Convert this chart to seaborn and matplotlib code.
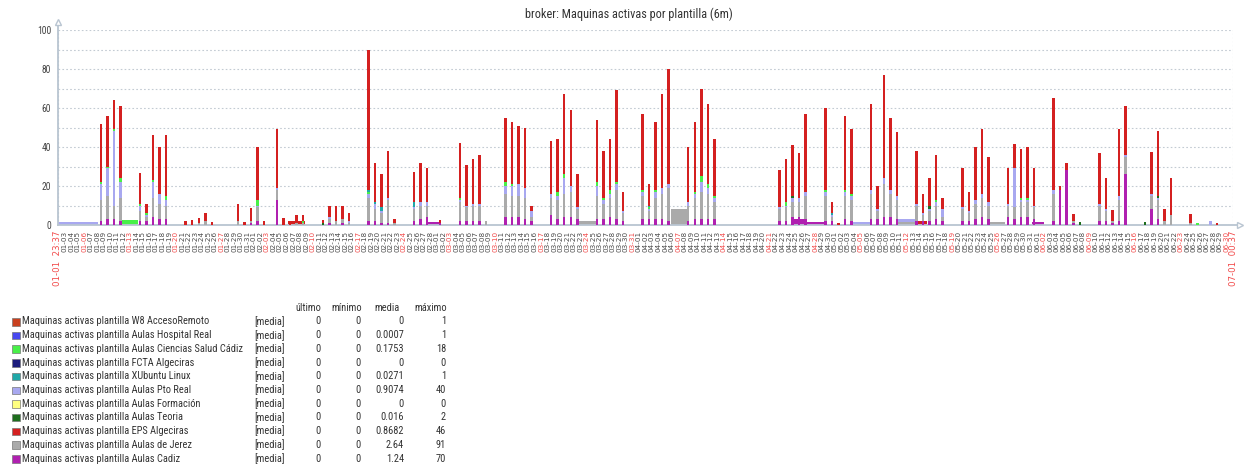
import numpy as np
import pandas as pd
import matplotlib
matplotlib.use("Agg")
import matplotlib.pyplot as plt
from matplotlib import font_manager as fm
from matplotlib.patches import Rectangle
import seaborn as sns

# ---------------- data ----------------
title = "broker: Maquinas activas por plantilla (6m)"
range_start = "2019-01-01 23:37"
range_end = "2019-07-01 00:37"
label_start = "01-01  23:37"
label_end = "07-01  00:37"

# active days (year 2019)
dias = [
    "01-08", "01-09", "01-10", "01-11", "01-14", "01-15", "01-16", "01-17", "01-18",
    "01-21", "01-22", "01-23", "01-24", "01-25", "01-29", "01-30", "01-31",
    "02-01", "02-02", "02-04", "02-05", "02-06", "02-07", "02-08", "02-11", "02-12",
    "02-13", "02-14", "02-15", "02-18", "02-19", "02-20", "02-21", "02-22", "02-25",
    "02-26", "02-27",
    "03-01", "03-04", "03-05", "03-06", "03-07", "03-08", "03-11", "03-12", "03-13",
    "03-14", "03-15", "03-18", "03-19", "03-20", "03-21", "03-22", "03-25", "03-26",
    "03-27", "03-28", "03-29",
    "04-01", "04-02", "04-03", "04-04", "04-05", "04-08", "04-09", "04-10", "04-11",
    "04-12", "04-22", "04-23", "04-24", "04-25", "04-26", "04-29", "04-30",
    "05-01", "05-02", "05-03", "05-06", "05-07", "05-08", "05-09", "05-10", "05-13",
    "05-14", "05-15", "05-16", "05-17", "05-20", "05-21", "05-22", "05-23", "05-24",
    "05-27", "05-28", "05-29", "05-30", "05-31",
    "06-03", "06-04", "06-05", "06-06", "06-07", "06-10", "06-11", "06-12", "06-13",
    "06-14", "06-17", "06-18", "06-19", "06-20", "06-21", "06-24", "06-25", "06-27",
    "06-28",
]

aulas_cadiz = [
    2, 3, 3, 2, 2, 2, 4, 3, 3, 0, 0, 0, 0, 0, 0, 0, 1,
    2, 0, 13, 0, 0, 0, 0, 0, 1, 0, 1, 0, 2, 2, 1, 1, 0, 2, 3, 4,
    1, 2, 2, 2, 2, 0, 4, 4, 4, 3, 2, 5, 3, 4, 4, 3, 3, 3, 4, 3, 2,
    3, 3, 3, 3, 2, 2, 3, 3, 3, 3, 2, 2, 4, 4, 3, 2, 2,
    0, 3, 2, 3, 3, 4, 4, 3, 2, 2, 2, 3, 2, 2, 2, 3, 4, 3, 4, 3, 4, 4, 3,
    2, 18, 28, 1, 0, 2, 2, 1, 2, 26, 0, 8, 3, 0, 0, 0, 0, 0, 0,
]
aulas_jerez = [
    11, 12, 7, 12, 5, 2, 10, 8, 7, 0, 0, 1, 2, 0, 2, 0, 1,
    7, 0, 5, 0, 0, 1, 1, 0, 2, 2, 2, 1, 12, 6, 5, 12, 1, 6, 7, 6,
    0, 10, 7, 8, 8, 2, 12, 11, 11, 11, 2, 9, 10, 12, 13, 5, 12, 8, 10, 15, 4,
    12, 4, 11, 13, 17, 8, 11, 14, 13, 9, 6, 7, 8, 8, 12, 13, 2,
    0, 12, 11, 13, 4, 17, 12, 10, 8, 3, 5, 7, 2, 6, 4, 8, 10, 7, 6, 6, 8, 8, 6,
    14, 0, 0, 1, 0, 8, 5, 1, 11, 9, 0, 7, 10, 2, 5, 1, 0, 0, 0,
]
aulas_pto_real = [
    8, 14, 38, 8, 3, 1, 8, 5, 3, 0, 0, 0, 0, 0, 0, 0, 0,
    1, 0, 1, 0, 0, 0, 0, 0, 1, 0, 0, 1, 2, 3, 1, 1, 0, 1, 2, 2,
    0, 1, 1, 1, 1, 0, 4, 5, 6, 5, 3, 2, 2, 8, 3, 1, 5, 2, 2, 3, 1,
    2, 1, 3, 3, 2, 2, 2, 5, 3, 2, 1, 1, 2, 2, 2, 2, 1,
    0, 2, 2, 2, 1, 3, 2, 2, 1, 1, 1, 2, 4, 1, 1, 2, 2, 2, 1, 20, 1, 1, 1,
    2, 0, 0, 0, 0, 1, 1, 0, 2, 1, 0, 1, 1, 0, 0, 0, 0, 2, 0,
]
aulas_ciencias_salud = [
    1, 1, 1, 2, 1, 1, 1, 0, 2, 0, 0, 0, 0, 0, 0, 0, 0,
    3, 0, 0, 0, 0, 0, 1, 0, 0, 0, 0, 0, 1, 0, 0, 0, 0, 0, 0, 0,
    0, 1, 0, 0, 0, 0, 2, 1, 0, 0, 0, 0, 2, 2, 0, 0, 2, 1, 2, 1, 0,
    1, 1, 1, 0, 0, 0, 1, 3, 2, 1, 0, 2, 0, 0, 0, 1, 0,
    0, 1, 1, 0, 0, 0, 0, 0, 0, 0, 0, 1, 0, 0, 0, 0, 0, 0, 0, 0, 1, 1, 0,
    0, 0, 0, 0, 0, 0, 0, 0, 0, 0, 0, 0, 0, 0, 0, 0, 1, 0, 0,
]
aulas_teoria = [
    0, 0, 0, 0, 0, 0, 0, 0, 0, 0, 0, 0, 0, 0, 0, 0, 0,
    0, 0, 0, 0, 0, 0, 0, 1, 0, 0, 0, 0, 0, 0, 0, 0, 0, 0, 0, 0,
    0, 0, 0, 0, 0, 0, 0, 0, 0, 0, 0, 0, 0, 0, 0, 0, 0, 0, 0, 0, 0,
    0, 0, 0, 0, 0, 0, 0, 0, 0, 0, 0, 0, 1, 0, 0, 0, 0,
    0, 0, 0, 0, 0, 0, 0, 0, 0, 0, 2, 0, 0, 0, 0, 0, 0, 0, 0, 0, 0, 0, 0,
    0, 0, 0, 0, 1.5, 0, 0, 0, 0, 0, 1.5, 0, 1, 0, 0, 0, 0, 0, 0,
]
xubuntu_linux = [
    0, 0, 0, 0, 0, 0, 0, 0, 0, 0, 0, 0, 0, 0, 0, 0, 0,
    0, 0, 0, 0, 0, 0, 0, 0, 0, 0, 0, 0, 1, 1, 2, 0, 0, 3, 0, 0,
    0, 0, 0, 0, 0, 0, 0, 0, 0, 0, 0, 0, 0, 0, 0, 0, 0, 0, 0, 0, 0,
    0, 1, 0, 0, 0, 0, 0, 0, 0, 0, 0, 0, 0, 0, 0, 0, 1,
    0, 0, 0, 0, 0, 0, 0, 0, 0, 0, 0, 0, 0, 0, 0, 0, 0, 0, 0, 0, 0, 0, 0,
    0, 0, 0, 0, 0, 0, 0, 0, 0, 0, 0, 0, 0, 0, 0, 0, 0, 0, 0,
]
eps_algeciras = [
    30, 26, 15, 37, 15.5, 5, 23, 24, 31, 2, 2.5, 2.5, 4, 1.5, 9, 1.5, 6.5,
    27, 2, 30, 3.5, 2, 4, 3, 1.5, 6, 8, 7, 4, 72, 20, 17, 24, 2, 15, 20, 17,
    1.5, 28, 21, 23, 25, 0, 33, 32, 30, 31, 3, 27, 27, 41, 39, 17, 32, 24, 26, 47, 10,
    39, 11, 35, 48, 59, 28, 36, 45, 41, 29, 19, 22, 26, 23, 40, 42, 6,
    1, 38, 33, 44, 12, 53, 37, 32.5, 27, 10, 14, 23, 6, 20, 10, 27, 33, 23, 18, 12.5, 25, 26, 19,
    47, 2, 4, 3.5, 0, 26, 16, 5.5, 34, 25, 0, 21.5, 33, 6, 19, 4.5, 0, 0, 1,
]

# continuous (overnight / weekend) levels
base_serie = ["Aulas Pto Real", "Aulas Ciencias Salud Cádiz", "EPS Algeciras", "Aulas Cadiz",
              "Aulas de Jerez", "Aulas de Jerez", "Aulas Cadiz", "Aulas Cadiz",
              "Aulas Pto Real", "Aulas de Jerez", "Aulas Pto Real", "EPS Algeciras",
              "Aulas de Jerez", "Aulas Cadiz"]
base_inicio = ["2019-01-01 23:37", "2019-01-11 18:00", "2019-02-06 04:00", "2019-02-27 18:00",
               "2019-03-22 16:00", "2019-04-05 22:00", "2019-04-24 14:00", "2019-04-26 17:00",
               "2019-05-03 21:00", "2019-05-10 17:00", "2019-05-10 17:00", "2019-05-13 14:00",
               "2019-05-24 19:00", "2019-05-31 05:00"]
base_fin = ["2019-01-08 04:00", "2019-01-14 05:00", "2019-02-08 19:00", "2019-03-01 12:00",
            "2019-03-25 10:00", "2019-04-08 10:00", "2019-04-26 12:00", "2019-04-29 12:00",
            "2019-05-06 14:00", "2019-05-13 14:00", "2019-05-13 14:00", "2019-05-15 02:00",
            "2019-05-27 02:00", "2019-06-02 00:00"]
base_valor = [1.5, 2.5, 2, 1.5, 2, 8, 3, 1.5, 1.5, 1.5, 1.5, 2, 1.5, 1.5]

# legend table
plantillas = ["W8 AccesoRemoto", "Aulas Hospital Real", "Aulas Ciencias Salud Cádiz",
              "FCTA Algeciras", "XUbuntu Linux", "Aulas Pto Real", "Aulas Formación",
              "Aulas Teoria", "EPS Algeciras", "Aulas de Jerez", "Aulas Cadiz"]
colores = ["#C8401E", "#4848F0", "#48F048", "#1C1C7C", "#20A8A8", "#A8A8F0", "#FFFF80",
           "#1E6E1E", "#D42020", "#AAAAAA", "#B020B0"]
ultimo = ["0", "0", "0", "0", "0", "0", "0", "0", "0", "0", "0"]
minimo = ["0", "0", "0", "0", "0", "0", "0", "0", "0", "0", "0"]
media = ["0", "0.0007", "0.1753", "0", "0.0271", "0.9074", "0", "0.016", "0.8682", "2.64", "1.24"]
maximo = ["1", "1", "18", "0", "1", "40", "0", "2", "46", "91", "70"]

# ---------------- styling ----------------
sns.set_style("white")
plt.rcParams["font.family"] = ["DejaVu Sans"]

# narrowest installed sans family for the (horizontally squeezed) Zabbix texts
_avail = {f.name for f in fm.fontManager.ttflist}
NARROW_NAME = "Liberation Sans"
STRETCH = "normal"
for cand in ["Liberation Sans Narrow", "Roboto Condensed", "Open Sans Condensed",
             "Noto Sans Condensed", "DejaVu Sans Condensed", "Noto Sans Display Condensed"]:
    if cand in _avail:
        NARROW_NAME = cand
        break
else:
    for f in fm.fontManager.ttflist:
        if f.name in ("Noto Sans", "Roboto", "Open Sans", "DejaVu Sans") and f.stretch in (
                "condensed", "semi-condensed", "extra-condensed", 75, 87.5):
            NARROW_NAME, STRETCH = f.name, "condensed"
            break
NARROW = [NARROW_NAME, "DejaVu Sans"]

TXT = "#333333"
GRID = "#C3CBD3"
AXIS = "#B9C5D1"
RED = "#F24A4A"
W, H = 1250, 470

T0 = pd.Timestamp("2019-01-01")


def to_days(s):
    return (pd.Timestamp(s) - T0) / pd.Timedelta(days=1)


color_map = dict(zip(plantillas, colores))
work_center = 13.2 / 24  # centre of the working-hours cluster within a day

day_x = np.array([to_days("2019-" + d) for d in dias]) + work_center
stack_series = {
    "EPS Algeciras": eps_algeciras,
    "XUbuntu Linux": xubuntu_linux,
    "Aulas Teoria": aulas_teoria,
    "Aulas Ciencias Salud Cádiz": aulas_ciencias_salud,
    "Aulas Pto Real": aulas_pto_real,
    "Aulas de Jerez": aulas_jerez,
    "Aulas Cadiz": aulas_cadiz,
}
frames = []
for name, vals in stack_series.items():
    frames.append(pd.DataFrame({"t": day_x, "v": np.asarray(vals, dtype=float), "serie": name}))
df = pd.concat(frames, ignore_index=True)

x_lo, x_hi = to_days(range_start), to_days(range_end)

fig = plt.figure(figsize=(W / 100, H / 100), dpi=100)
ax = fig.add_axes([58 / W, 1 - 225 / H, (1233 - 58) / W, (225 - 30) / H])
renderer = fig.canvas.get_renderer()


def fitted_size(text, target_px, base=10):
    t = fig.text(0, 0, text, fontsize=base, family=NARROW, fontstretch=STRETCH)
    w = t.get_window_extent(renderer).width
    t.remove()
    return base * target_px / w


# continuous levels
bdf = pd.DataFrame({"s": base_serie, "x0": [to_days(s) for s in base_inicio],
                    "x1": [to_days(s) for s in base_fin], "v": base_valor})
bottoms = []
for i, row in bdf.iterrows():
    prev = bdf.iloc[:i]
    prev = prev[(prev.x0 == row.x0) & (prev.x1 == row.x1)]
    bottoms.append(prev.v.sum())
ax.bar(bdf.x0, bdf.v, width=bdf.x1 - bdf.x0, bottom=bottoms, align="edge",
       color=[color_map[s] for s in bdf.s], linewidth=0, zorder=2)

# daily stacked spikes
sns.histplot(data=df, x="t", weights="v", hue="serie", hue_order=list(stack_series.keys()),
             palette=color_map, multiple="stack", binwidth=1,
             binrange=(work_center - 0.5, 182 + work_center - 0.5), shrink=0.38,
             alpha=1, linewidth=0, legend=False, ax=ax, zorder=3)

ax.set_xlim(x_lo, x_hi)
ax.set_ylim(0, 100)
ax.set_xlabel("")
ax.set_ylabel("")
ax.set_axisbelow(True)

# x ticks: daily labels
days = pd.date_range("2019-01-03", "2019-06-30", freq="D")
tick_pos = [x_lo] + [to_days(d) for d in days] + [x_hi]
tick_lab = [label_start] + [d.strftime("%m-%d") for d in days] + [label_end]
tick_red = [True] + [d.weekday() == 6 for d in days] + [True]
ax.set_xticks(tick_pos)
ax.set_xticklabels(tick_lab, rotation=90, fontsize=5.2, family="DejaVu Sans")
for k, (lab, red) in enumerate(zip(ax.get_xticklabels(), tick_red)):
    lab.set_color(RED if red else "#4A4A4A")
    if k in (0, len(tick_red) - 1):
        lab.set_fontsize(6.2)
mid = pd.date_range("2019-01-02", "2019-07-01", freq="D")
ax.set_xticks([to_days(d) for d in mid], minor=True)

ysize = fitted_size("100", 14)
ax.set_yticks(np.arange(0, 101, 20))
ax.set_yticks(np.arange(10, 100, 20), minor=True)
ax.set_yticklabels([str(v) for v in range(0, 101, 20)], fontsize=ysize, family=NARROW,
                   fontstretch=STRETCH, color="#444444")
ax.tick_params(which="both", length=0)
ax.tick_params(axis="x", pad=4)
ax.tick_params(axis="y", pad=5)

ax.xaxis.grid(True, which="minor", color=GRID, linestyle=(0, (1.5, 2)), linewidth=0.8)
ax.xaxis.grid(False, which="major")
ax.yaxis.grid(True, which="both", color=GRID, linestyle=(0, (1.5, 2)), linewidth=0.8)

for sp in ["top", "right"]:
    ax.spines[sp].set_visible(False)
for sp in ["left", "bottom"]:
    ax.spines[sp].set_color(AXIS)
    ax.spines[sp].set_linewidth(1.3)
ax.spines["left"].set_bounds(0, 104)
ax.spines["bottom"].set_bounds(x_lo, x_hi + 1.1)
ax.plot([x_lo], [104], marker="^", ms=5, mfc="white", mec=AXIS, mew=1, clip_on=False, zorder=5)
ax.plot([x_hi + 1.1], [0], marker=">", ms=5, mfc="white", mec=AXIS, mew=1, clip_on=False, zorder=5)

tsize = fitted_size(title, 206)
fig.text(629 / W, 1 - 14 / H, title, ha="center", va="center", fontsize=tsize, family=NARROW,
         fontstretch=STRETCH, color=TXT)

# legend table
hdr_y = 308
fs = fitted_size("Maquinas activas plantilla " + plantillas[0], 185)
kw = dict(fontsize=fs, family=NARROW, fontstretch=STRETCH, color=TXT)
for x_r, txt in zip([321, 362, 400, 447], ["último", "mínimo", "media", "máximo"]):
    fig.text(x_r / W, 1 - hdr_y / H, txt, ha="right", va="center", **kw)
for i, name in enumerate(plantillas):
    y = 321.5 + i * 13.7
    fig.add_artist(Rectangle((12 / W, 1 - (y + 4) / H), 7.5 / W, 7.5 / H, transform=fig.transFigure,
                             facecolor=colores[i], edgecolor="#777777", linewidth=0.5))
    fig.text(22 / W, 1 - y / H, "Maquinas activas plantilla " + name, ha="left", va="center", **kw)
    fig.text(254 / W, 1 - y / H, "[media]", ha="left", va="center", **kw)
    for x_r, col in zip([321, 361, 404, 446], [ultimo, minimo, media, maximo]):
        fig.text(x_r / W, 1 - y / H, col[i], ha="right", va="center", **kw)

fig.savefig("out.png", dpi=100, facecolor="white")
